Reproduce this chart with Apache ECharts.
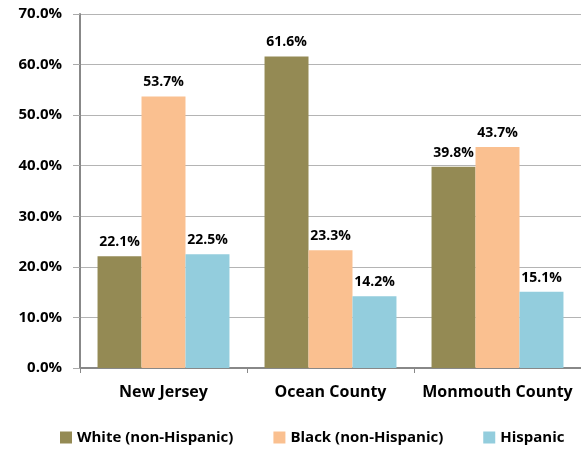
<!DOCTYPE html>
<html><head><meta charset="utf-8">
<script src="https://cdn.jsdelivr.net/npm/echarts@6/dist/echarts.min.js"></script>
<style>html,body{margin:0;padding:0;background:#fff}#c{width:581px;height:451px}</style>
</head><body><div id="c"></div>
<script>
var categories = ['New Jersey', 'Ocean County', 'Monmouth County'];
var seriesNames = ['White (non-Hispanic)', 'Black (non-Hispanic)', 'Hispanic'];
var white = [22.1, 61.6, 39.8];
var black = [53.7, 23.3, 43.7];
var hispanic = [22.5, 14.2, 15.1];
var colors = ['#948A54', '#FAC090', '#93CDDD'];
var FONT = 'Open Sans';

var chart = echarts.init(document.getElementById('c'), null, {renderer: 'canvas'});
function mk(name, data, color) {
  return {
    name: name, type: 'bar', data: data, barGap: '0%', barCategoryGap: '21%',
    itemStyle: {color: color},
    label: {show: true, position: 'top', distance: 7, formatter: function(p){return p.value.toFixed(1) + '%';},
      fontFamily: FONT, fontWeight: 'bold', fontSize: 14, color: '#000'}
  };
}
chart.setOption({
  animation: false,
  grid: {left: 80, right: 0, top: 14, bottom: 83},
  legend: {
    bottom: 1, left: 55, itemWidth: 12, itemHeight: 12, itemGap: 40,
    icon: 'rect',
    textStyle: {fontFamily: FONT, fontWeight: 'bold', fontSize: 15, color: '#000'},
    data: seriesNames
  },
  xAxis: {
    type: 'category', data: categories,
    axisLine: {lineStyle: {color: '#888', width: 2}},
    axisTick: {show: true, length: 5, lineStyle: {color: '#888'}},
    axisLabel: {interval: 0, fontFamily: FONT, fontWeight: 'bold', fontSize: 16, color: '#000', margin: 16}
  },
  yAxis: {
    type: 'value', min: 0, max: 70, interval: 10,
    axisLine: {show: true, lineStyle: {color: '#888', width: 2}},
    axisTick: {show: true, length: 7, lineStyle: {color: '#aaa', width: 1}},
    splitLine: {lineStyle: {color: '#b4b4b4', width: 1}},
    axisLabel: {fontFamily: FONT, fontWeight: 'bold', fontSize: 15, color: '#000', margin: 18,
      formatter: function(v){return v.toFixed(1) + '%';}}
  },
  series: [mk(seriesNames[0], white, colors[0]), mk(seriesNames[1], black, colors[1]), mk(seriesNames[2], hispanic, colors[2])]
});
</script></body></html>
